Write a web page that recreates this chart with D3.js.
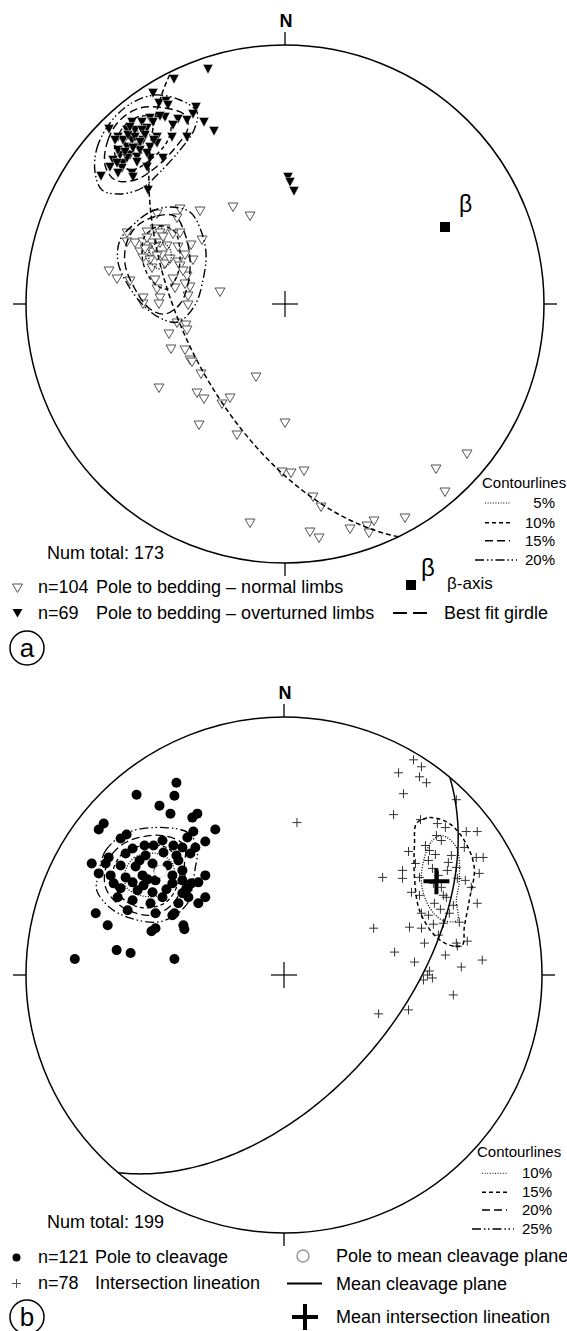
<!DOCTYPE html>
<html>
<head>
<meta charset="utf-8">
<script src="https://cdn.jsdelivr.net/npm/d3@7"></script>
<style>
  html, body { margin: 0; padding: 0; background: #fff; }
  text { font-family: "Liberation Sans", Arial, sans-serif; fill: #000; }
</style>
</head>
<body>
<div id="chart"></div>
<script>
// Net coordinates: [east, north] offsets, primitive circle radius = NET_R units
const NET_R = 259;

// ---------- panel a ----------
const beddingOverturned = [
  [-77,235],[-111,225],[-132,211],[-126,201],[-119,203],[-117,199],[-89,197],[-92,190],[-98,184],
  [-81,182],[-71,173],[-107,185],[-112,179],[-120,187],[-125,188],[-135,186],[-143,182],[-153,182],
  [-176,175],[-167,167],[-158,174],[-150,174],[-138,176],[-128,167],[-113,167],[-98,167],[-142,164],
  [-153,164],[-158,157],[-147,157],[-135,157],[-128,161],[-155,149],[-165,149],[-172,144],[-162,141],
  [-148,147],[-135,146],[-122,146],[-163,136],[-167,131],[-184,128],[-153,131],[-152,127],[-137,114],
  [-143,174],[-150,167],[-162,164],[-138,151],[-145,154],[-157,169],[-140,169],[-167,154],[-175,137],
  [-131,164],[-168,141],[-158,146],[-145,162],[-152,156],[-160,152],[-170,164],[-155,177],[-132,182],
  [-148,142],[-138,137],[3,127],[5,122],[9,113]
];
const beddingNormal = [
  [-105,95],[-85,93],[-128,90],[-108,86],[-130,75],[-120,75],[-125,71],[-138,72],[-158,71],[-105,71],
  [-83,64],[-158,62],[-150,61],[-142,62],[-133,61],[-125,61],[-107,57],[-94,59],[-145,52],[-133,52],
  [-123,49],[-100,49],[-142,46],[-135,44],[-120,40],[-107,42],[-92,44],[-105,38],[-176,33],[-168,25],
  [-155,23],[-130,24],[-112,25],[-98,28],[-128,15],[-110,16],[-95,17],[-142,6],[-125,6],[-97,8],
  [-142,0],[-126,0],[-97,-1],[-108,-19],[-99,-21],[-65,12],[-133,36],[-122,67],[-52,97],[-35,88],
  [-118,58],[-112,70],[-140,55],[-128,48],[-102,33],[-115,45],[-138,66],[-100,20],[-130,57],
  [-98,-26],[-116,-30],[-114,-45],[-100,-46],[-95,-56],[-93,-58],[-84,-70],[-29,-73],[-126,-84],
  [-88,-89],[-81,-95],[-55,-94],[-63,-100],[-86,-121],[0,-119],[-48,-131],[182,-150],[151,-165],
  [-3,-168],[6,-169],[19,-167],[160,-188],[28,-193],[36,-203],[120,-214],[89,-217],[82,-222],
  [84,-229],[65,-225],[-35,-219],[25,-228],[34,-234]
];
const betaAxis = [160, 77];
const girdlePlane = [244, 57];          // dip direction, dip
// contour polygons, upper (overturned) cluster
const contourA20 = [[-190,132],[-188,156],[-175,181],[-155,200],[-130,209],[-105,204],[-88,192],[-91,174],
  [-105,154],[-125,132],[-143,116],[-165,110],[-183,114]];
const contourA15 = [[-180,139],[-177,164],[-165,184],[-145,196],[-120,196],[-100,189],[-97,176],[-110,156],
  [-130,136],[-150,124],[-170,124]];
const contourA10 = [[-170,149],[-165,172],[-150,186],[-130,188],[-115,182],[-117,164],[-135,144],[-155,134]];
const contourA5 = [[-160,160],[-150,172],[-138,172],[-133,160],[-148,150]];
// contour polygons, lower (normal) cluster
const contourB20 = [[-152,79],[-135,92],[-115,97],[-95,92],[-85,76],[-79,51],[-82,24],[-90,-1],[-107,-18],
  [-125,-14],[-142,-1],[-157,19],[-167,42],[-165,64]];
const contourB15 = [[-148,78],[-128,88],[-110,88],[-100,70],[-95,45],[-97,20],[-105,0],[-120,-10],[-135,-5],
  [-150,15],[-160,40],[-158,62]];
const contourB10 = [[-140,68],[-125,78],[-110,72],[-105,50],[-108,28],[-118,15],[-132,22],[-142,42]];
const contourB5 = [[-135,55],[-125,62],[-115,55],[-115,42],[-125,35],[-135,42]];

const legendPctA = ["5%", "10%", "15%", "20%"];

// ---------- panel b ----------
const cleavagePoles = [
  [-108,193],[-110,180],[-148,181],[-125,170],[-114,162],[-87,162],[-92,158],[-181,152],[-186,146],
  [-69,146],[-91,144],[-158,141],[-164,137],[-97,138],[-79,134],[-122,135],[-131,130],[-111,130],
  [-102,128],[-89,128],[-152,127],[-159,122],[-139,120],[-121,123],[-94,122],[-176,118],[-179,112],
  [-193,112],[-164,110],[-149,109],[-132,112],[-117,110],[-106,115],[-186,102],[-174,100],[-159,98],
  [-142,100],[-112,100],[-102,105],[-171,92],[-152,93],[-141,90],[-129,95],[-112,92],[-102,95],
  [-79,100],[-86,93],[-164,87],[-147,85],[-132,83],[-122,78],[-99,83],[-96,78],[-167,78],[-152,75],
  [-134,72],[-106,72],[-79,78],[-86,72],[-157,65],[-129,62],[-112,60],[-189,62],[-177,50],[-101,50],
  [-129,47],[-133,44],[-100,46],[-168,25],[-154,22],[-210,16],[-110,16],[-102,82],[-110,62],[-97,87],
  [-93,92],[-126,105],[-137,96],[-118,86],[-108,120],[-140,130],[-145,115]
];
const meanCleavagePole = [-124, 104];
const intersections = [
  [138,209],[115,203],[136,199],[143,193],[120,182],[173,176],[110,161],[137,156],[154,152],[162,148],
  [183,144],[194,144],[153,140],[158,135],[181,128],[125,124],[146,125],[152,121],[193,118],[200,118],
  [165,113],[149,107],[164,105],[173,108],[196,102],[119,105],[99,98],[119,97],[136,98],[174,97],
  [188,88],[128,83],[136,80],[160,80],[163,78],[151,72],[194,72],[166,62],[176,53],[160,52],[150,51],
  [126,48],[138,47],[90,47],[141,32],[173,32],[174,29],[184,34],[111,23],[131,13],[178,8],[199,15],
  [146,4],[144,0],[149,-3],[140,-5],[170,-20],[95,-39],[125,-35],[13,153],[130,216],
  [145,115],[155,100],[150,92],[142,130],[168,120],[158,88],[132,112],[170,70],[157,66],[182,95],
  [145,60],[155,40],[162,20],[138,62]
];
const meanIntersection = [153, 94];
const cleavagePlane = [130, 53];        // dip direction, dip
const contourC25 = [[-186,102],[-179,125],[-157,143],[-120,148],[-95,142],[-87,125],[-89,108],[-92,90],
  [-95,75],[-109,60],[-128,53],[-154,57],[-174,67],[-188,85]];
const contourC20 = [[-180,102],[-172,122],[-155,135],[-122,140],[-100,130],[-100,110],[-100,95],[-113,70],
  [-135,60],[-162,68],[-178,85]];
const contourC15 = [[-172,102],[-162,122],[-140,130],[-118,128],[-105,112],[-107,90],[-120,72],[-145,68],[-165,80]];
const contourC10 = [[-160,102],[-150,118],[-128,122],[-112,112],[-112,92],[-125,80],[-145,80],[-158,88]];
const contourD15 = [[133,152],[146,158],[166,152],[181,135],[191,108],[186,75],[181,48],[179,30],[166,30],
  [151,40],[136,65],[131,98],[131,132]];
const contourD10 = [[159,140],[173,128],[176,95],[173,75],[174,55],[159,55],[146,68],[138,92],[141,118],[149,135]];

const legendPctB = ["10%", "15%", "20%", "25%"];

// dash styles for contour levels (dotted, short dash, long dash, dash-dot-dot)
const DASHES = ["1,1.6", "4,3", "8,4", "9,3,1.5,2.5,1.5,3"];

const W = 567, H = 1331;
const svg = d3.select("#chart").append("svg").attr("width", W).attr("height", H);
svg.append("rect").attr("width", W).attr("height", H).attr("fill", "#fff");

const rad = Math.PI / 180;
// equal-area (Schmidt) lower hemisphere projection -> net units
function projectLine(trend, plunge) {
  const r = NET_R * Math.SQRT2 * Math.sin((90 - plunge) / 2 * rad);
  return [r * Math.sin(trend * rad), r * Math.cos(trend * rad)];
}
function greatCircle(plane) {
  const a = plane[0] * rad, d = plane[1] * rad;
  const s = [Math.sin(a - Math.PI / 2), Math.cos(a - Math.PI / 2), 0];
  const v = [Math.sin(a) * Math.cos(d), Math.cos(a) * Math.cos(d), -Math.sin(d)];
  const pts = [];
  for (let t = 0; t <= 180; t += 1) {
    const c = Math.cos(t * rad), sn = Math.sin(t * rad);
    const L = [s[0] * c + v[0] * sn, s[1] * c + v[1] * sn, s[2] * c + v[2] * sn];
    const plunge = Math.asin(Math.min(1, -L[2])) / rad;
    const trend = Math.atan2(L[0], L[1]) / rad;
    pts.push(projectLine(trend, plunge));
  }
  return pts;
}

function makeNet(cx, cy, R) {
  const g = svg.append("g");
  const x = d3.scaleLinear().domain([-NET_R, NET_R]).range([cx - R, cx + R]);
  const y = d3.scaleLinear().domain([-NET_R, NET_R]).range([cy + R, cy - R]);
  // primitive circle + ticks
  g.append("circle").attr("cx", cx).attr("cy", cy).attr("r", R)
    .attr("fill", "none").attr("stroke", "#000").attr("stroke-width", 1.5);
  const tk = 13;
  [[cx, cy - R, cx, cy - R - tk], [cx, cy + R, cx, cy + R + tk],
   [cx - R, cy, cx - R - tk, cy], [cx + R, cy, cx + R + tk, cy]].forEach(l => {
    g.append("line").attr("x1", l[0]).attr("y1", l[1]).attr("x2", l[2]).attr("y2", l[3])
      .attr("stroke", "#000").attr("stroke-width", 1.3);
  });
  g.append("line").attr("x1", cx - 13).attr("x2", cx + 13).attr("y1", cy).attr("y2", cy)
    .attr("stroke", "#000").attr("stroke-width", 1.2);
  g.append("line").attr("x1", cx).attr("x2", cx).attr("y1", cy - 13).attr("y2", cy + 13)
    .attr("stroke", "#000").attr("stroke-width", 1.2);
  g.append("text").attr("x", cx + 1).attr("y", cy - R - 18).attr("text-anchor", "middle")
    .attr("font-size", "18px").attr("font-weight", "bold").text("N");
  return { g, x, y };
}

const contourLine = (net) => d3.line().x(d => net.x(d[0])).y(d => net.y(d[1]))
  .curve(d3.curveCatmullRomClosed.alpha(0.5));
function drawContour(net, pts, dash, w) {
  net.g.append("path").attr("d", contourLine(net)(pts)).attr("fill", "none")
    .attr("stroke", "#000").attr("stroke-width", w || 1.4).attr("stroke-dasharray", dash);
}
const triDown = "M-5,-4L5,-4L0,4.5Z";

// ===================== panel a =====================
const netA = makeNet(285, 304, 259);
netA.g.selectAll(".tn").data(beddingNormal).join("path")
  .attr("d", triDown).attr("transform", d => `translate(${netA.x(d[0])},${netA.y(d[1])})`)
  .attr("fill", "#fff").attr("stroke", "#555").attr("stroke-width", 1);
[contourB5, contourB10, contourB15, contourB20].forEach((c, i) => drawContour(netA, c, DASHES[i]));
netA.g.selectAll(".to").data(beddingOverturned).join("path")
  .attr("d", "M-5,-4.5L5,-4.5L0,5Z").attr("transform", d => `translate(${netA.x(d[0])},${netA.y(d[1])})`)
  .attr("fill", "#000").attr("stroke", "#fff").attr("stroke-width", 0.4);
[contourA5, contourA10, contourA15, contourA20].forEach((c, i) => drawContour(netA, c, DASHES[i]));
netA.g.append("path")
  .attr("d", d3.line().x(d => netA.x(d[0])).y(d => netA.y(d[1]))(greatCircle(girdlePlane)))
  .attr("fill", "none").attr("stroke", "#000").attr("stroke-width", 1.5).attr("stroke-dasharray", "5,3");
netA.g.append("rect").attr("x", netA.x(betaAxis[0]) - 5).attr("y", netA.y(betaAxis[1]) - 5)
  .attr("width", 10).attr("height", 10).attr("fill", "#000");
netA.g.append("text").attr("x", netA.x(betaAxis[0]) + 14).attr("y", netA.y(betaAxis[1]) - 15)
  .attr("font-size", "23px").text("β");

// legend a
svg.append("text").attr("x", 47).attr("y", 559).attr("font-size", "18px").text("Num total: 173");
svg.append("path").attr("d", triDown).attr("transform", "translate(17.5,588)")
  .attr("fill", "#fff").attr("stroke", "#555");
svg.append("path").attr("d", triDown).attr("transform", "translate(17.5,613)").attr("fill", "#000");
svg.append("text").attr("x", 38).attr("y", 593).attr("font-size", "18px").text("n=104");
svg.append("text").attr("x", 96).attr("y", 593).attr("font-size", "18px").text("Pole to bedding – normal limbs");
svg.append("text").attr("x", 38).attr("y", 619).attr("font-size", "18px").text("n=69");
svg.append("text").attr("x", 96).attr("y", 619).attr("font-size", "18px").text("Pole to bedding – overturned limbs");
svg.append("rect").attr("x", 406).attr("y", 580).attr("width", 10).attr("height", 10).attr("fill", "#000");
svg.append("text").attr("x", 421).attr("y", 576).attr("font-size", "24px").text("β");
svg.append("text").attr("x", 447).attr("y", 589).attr("font-size", "17px").text("β-axis");
svg.append("line").attr("x1", 393).attr("x2", 427).attr("y1", 613).attr("y2", 613)
  .attr("stroke", "#000").attr("stroke-width", 2).attr("stroke-dasharray", "14,6");
svg.append("text").attr("x", 444).attr("y", 619).attr("font-size", "18px").text("Best fit girdle");

function contourLegend(x0, yTitle, rows, labels, xEnd) {
  svg.append("text").attr("x", x0).attr("y", yTitle).attr("font-size", "15px").text("Contourlines");
  labels.forEach((lab, i) => {
    const yy = rows[i];
    const x1 = i === 3 ? xEnd - 80 : xEnd - 70, x2 = i === 3 ? xEnd - 38 : xEnd - 45;
    svg.append("line").attr("x1", x1).attr("x2", x2).attr("y1", yy).attr("y2", yy)
      .attr("stroke", "#000").attr("stroke-width", i === 0 ? 1 : 1.5).attr("stroke-dasharray", DASHES[i]);
    svg.append("text").attr("x", xEnd).attr("y", yy + 5).attr("text-anchor", "end")
      .attr("font-size", "15px").text(lab);
  });
}
contourLegend(482, 488, [503, 522.7, 540.7, 560], legendPctA, 555);

// panel label a
svg.append("circle").attr("cx", 27).attr("cy", 648).attr("r", 17)
  .attr("fill", "none").attr("stroke", "#000").attr("stroke-width", 1.5);
svg.append("text").attr("x", 27).attr("y", 657).attr("text-anchor", "middle").attr("font-size", "26px").text("a");

// ===================== panel b =====================
const netB = makeNet(284, 975, 258);
netB.g.selectAll(".cp").data(cleavagePoles).join("circle")
  .attr("cx", d => netB.x(d[0])).attr("cy", d => netB.y(d[1])).attr("r", 5).attr("fill", "#000");
netB.g.append("circle").attr("cx", netB.x(meanCleavagePole[0])).attr("cy", netB.y(meanCleavagePole[1]))
  .attr("r", 6).attr("fill", "#fff").attr("stroke", "#ddd");
[contourC10, contourC15, contourC20, contourC25].forEach((c, i) => drawContour(netB, c, DASHES[i], 1.3));
const crossPath = "M-4.5,0H4.5M0,-4.5V4.5";
netB.g.selectAll(".il").data(intersections).join("path")
  .attr("d", crossPath).attr("transform", d => `translate(${netB.x(d[0])},${netB.y(d[1])})`)
  .attr("stroke", "#333").attr("stroke-width", 1).attr("fill", "none");
drawContour(netB, contourD10, DASHES[0], 1.3);
drawContour(netB, contourD15, DASHES[1], 1.5);
netB.g.append("path")
  .attr("d", d3.line().x(d => netB.x(d[0])).y(d => netB.y(d[1]))(greatCircle(cleavagePlane)))
  .attr("fill", "none").attr("stroke", "#000").attr("stroke-width", 1.5);
netB.g.append("path").attr("d", "M-13,0H13M0,-13V13")
  .attr("transform", `translate(${netB.x(meanIntersection[0])},${netB.y(meanIntersection[1])})`)
  .attr("stroke", "#000").attr("stroke-width", 4);

// legend b
svg.append("text").attr("x", 47).attr("y", 1228).attr("font-size", "18px").text("Num total: 199");
svg.append("circle").attr("cx", 16.5).attr("cy", 1257.5).attr("r", 4).attr("fill", "#000");
svg.append("path").attr("d", crossPath).attr("transform", "translate(16.5,1283.5)")
  .attr("stroke", "#555").attr("stroke-width", 1);
svg.append("text").attr("x", 38).attr("y", 1263).attr("font-size", "18px").text("n=121");
svg.append("text").attr("x", 95).attr("y", 1263).attr("font-size", "18px").text("Pole to cleavage");
svg.append("text").attr("x", 38).attr("y", 1289).attr("font-size", "18px").text("n=78");
svg.append("text").attr("x", 95).attr("y", 1289).attr("font-size", "18px").text("Intersection lineation");
svg.append("circle").attr("cx", 303).attr("cy", 1256).attr("r", 6)
  .attr("fill", "none").attr("stroke", "#999").attr("stroke-width", 1.5);
svg.append("text").attr("x", 336).attr("y", 1262).attr("font-size", "18px").text("Pole to mean cleavage plane");
svg.append("line").attr("x1", 287).attr("x2", 322).attr("y1", 1283.5).attr("y2", 1283.5)
  .attr("stroke", "#000").attr("stroke-width", 2);
svg.append("text").attr("x", 336).attr("y", 1290).attr("font-size", "18px").text("Mean cleavage plane");
svg.append("path").attr("d", "M-13,0H13M0,-13V13").attr("transform", "translate(305,1317)")
  .attr("stroke", "#000").attr("stroke-width", 4);
svg.append("text").attr("x", 336).attr("y", 1323).attr("font-size", "18px").text("Mean intersection lineation");
contourLegend(477, 1157, [1173.3, 1192.3, 1210, 1229], legendPctB, 552);

// panel label b
svg.append("circle").attr("cx", 27).attr("cy", 1317).attr("r", 17)
  .attr("fill", "none").attr("stroke", "#000").attr("stroke-width", 1.5);
svg.append("text").attr("x", 27).attr("y", 1326).attr("text-anchor", "middle").attr("font-size", "26px").text("b");
</script>
</body>
</html>
